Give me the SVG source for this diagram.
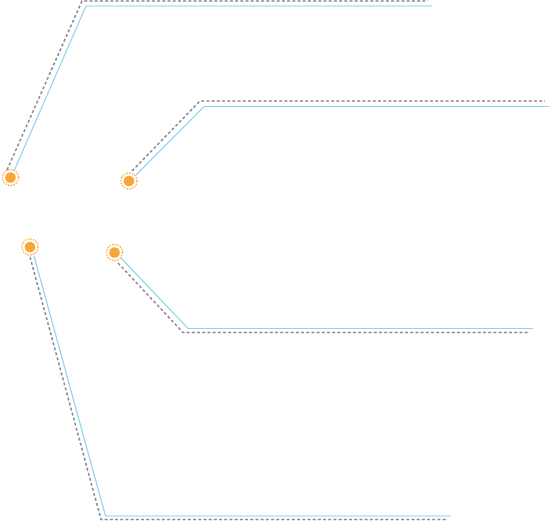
<svg xmlns="http://www.w3.org/2000/svg" width="549" height="521" viewBox="0 0 549 521">
<style>
.blue{fill:none;stroke:#8fd4ef;stroke-width:1.2}
.dash{fill:none;stroke:#8a8a8a;stroke-width:1.6;stroke-dasharray:3 2.2}
.dot{fill:#f7a73a}
.ring{fill:none;stroke:#f7a73a;stroke-width:1.3;stroke-dasharray:1.5 1.2}
</style>
<rect width="549" height="521" fill="#ffffff"/>
<g id="connectors">
<polyline class="blue" points="14,171 86,6 432,6"/>
<polyline class="dash" points="7,170 82,1 428,1"/>
<polyline class="blue" points="136,175 204,106.5 549,106.5"/>
<polyline class="dash" points="132,171 200,101 545,101"/>
<polyline class="blue" points="121,258 188,328.5 533,328.5"/>
<polyline class="dash" points="118,263 183,332.5 530,332.5"/>
<polyline class="blue" points="34,256 105.5,516 451,516"/>
<polyline class="dash" points="30,257 101,519.5 448,519.5"/>
</g>
<g id="node1"><circle class="ring" cx="10.5" cy="177.5" r="8"/><circle class="dot" cx="10.5" cy="177.5" r="5.3"/></g>
<g id="node2"><circle class="ring" cx="129" cy="181" r="8"/><circle class="dot" cx="129" cy="181" r="5.3"/></g>
<g id="node3"><circle class="ring" cx="114.5" cy="252.5" r="8"/><circle class="dot" cx="114.5" cy="252.5" r="5.3"/></g>
<g id="node4"><circle class="ring" cx="30" cy="247" r="8"/><circle class="dot" cx="30" cy="247" r="5.3"/></g>
</svg>
